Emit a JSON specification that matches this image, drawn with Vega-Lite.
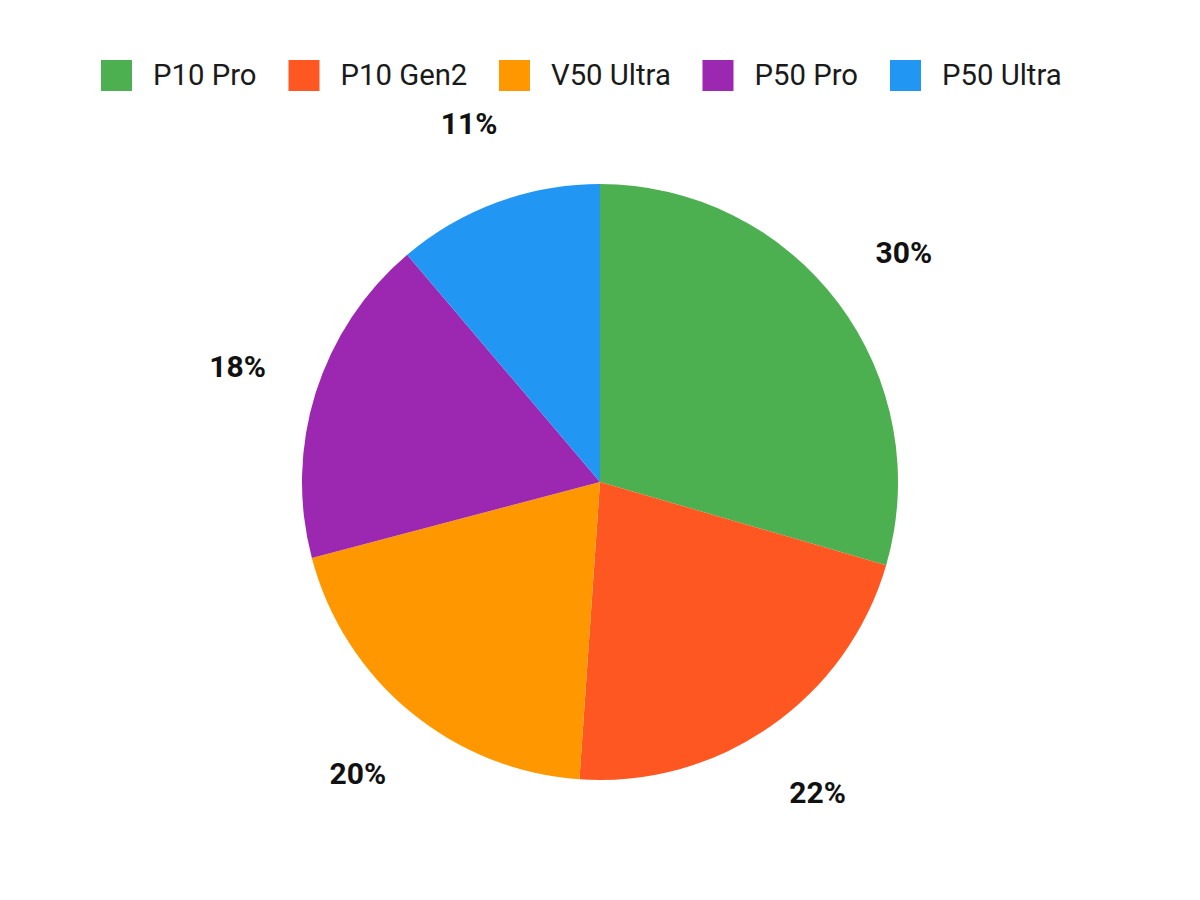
{
  "$schema": "https://vega.github.io/schema/vega-lite/v6.json",
  "width": 1200,
  "height": 836,
  "autosize": "none",
  "padding": {"top": 64, "left": 0, "right": 0, "bottom": 0},
  "background": "white",
  "config": {"view": {"stroke": null}, "font": "Roboto"},
  "data": {
    "values": [
      {"model": "P10 Pro", "share": 0.295, "rank": 1},
      {"model": "P10 Gen2", "share": 0.216, "rank": 2},
      {"model": "V50 Ultra", "share": 0.198, "rank": 3},
      {"model": "P50 Pro", "share": 0.179, "rank": 4},
      {"model": "P50 Ultra", "share": 0.112, "rank": 5}
    ]
  },
  "encoding": {
    "theta": {"field": "share", "type": "quantitative", "stack": true},
    "order": {"field": "rank", "type": "quantitative"},
    "color": {
      "field": "model",
      "type": "nominal",
      "scale": {
        "domain": ["P10 Pro", "P10 Gen2", "V50 Ultra", "P50 Pro", "P50 Ultra"],
        "range": ["#4CAF50", "#FF5722", "#FF9800", "#9C27B0", "#2196F3"]
      },
      "legend": {
        "title": null,
        "orient": "none",
        "legendX": 101,
        "legendY": -4,
        "direction": "horizontal",
        "columns": 5,
        "symbolType": "square",
        "symbolSize": 961,
        "symbolStrokeWidth": 0,
        "labelFont": "Roboto",
        "labelFontSize": 29.3,
        "labelColor": "#1a1a1a",
        "labelOffset": 21,
        "columnPadding": 31.5
      }
    }
  },
  "layer": [
    {"mark": {"type": "arc", "outerRadius": 298}},
    {
      "mark": {
        "type": "text",
        "radius": 380,
        "font": "Roboto",
        "fontSize": 30,
        "fontWeight": "bold"
      },
      "encoding": {
        "text": {"field": "share", "type": "quantitative", "format": ".0%"},
        "color": {"value": "#111111"}
      }
    }
  ]
}
